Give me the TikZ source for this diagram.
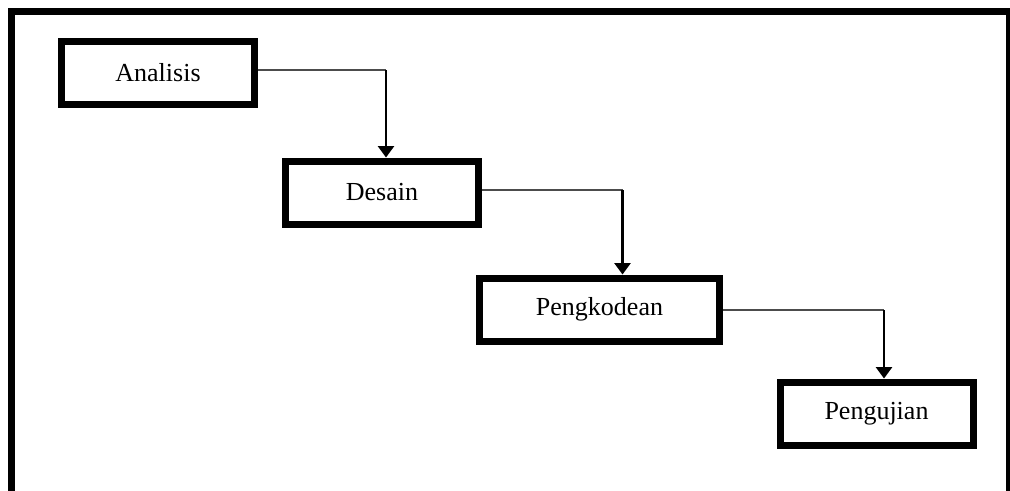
\documentclass[tikz,border=0pt]{standalone}
\usepackage{fontspec}
\setmainfont{Liberation Serif}
\usepackage{tikz}
\usetikzlibrary{arrows,arrows.meta}
\tikzstyle{phase} = [draw, line width=5.25pt, minimum width=193\pxu, minimum height=63\pxu, inner sep=0pt, font=\fontsize{19.5}{23}\selectfont]
\tikzstyle{line} = [draw, line width=0.8pt, black!70]
\tikzstyle{drop} = [draw, line width=1.6pt, -{Triangle[width=12pt,length=8.5pt]}]
\newcommand{\pxu}{pt*0.75}

\begin{document}
\begin{tikzpicture} [x=0.75pt, y=-0.75pt]

		\useasboundingbox (0,0) rectangle (1010,490);
		\draw [line width=5.25pt] (11.5,495)--(11.5,11.5)--(1009.5,11.5)--(1009.5,495);

		\node [phase] (analisis) at (158,73) {Analisis};
		\node [phase] (desain) at (382,192.5) {Desain};
		\node [phase, minimum width=240\pxu] (kode) at (599.5,309.5) {Pengkodean};
		\node [phase] (uji) at (876.5,413.5) {Pengujian};

		\coordinate (b1) at (386,70);
		\coordinate (b2) at (622.5,190);
		\coordinate (b3) at (884,310);

		\path [line] (analisis.east |- b1) -- (b1);
		\path [drop] (b1) -- (b1 |- desain.north);
		\path [line] (desain.east |- b2) -- (b2);
		\path [drop] (b2) -- (b2 |- kode.north);
		\path [line] (kode.east |- b3) -- (b3);
		\path [drop] (b3) -- (b3 |- uji.north);

\end{tikzpicture}
\end{document}
